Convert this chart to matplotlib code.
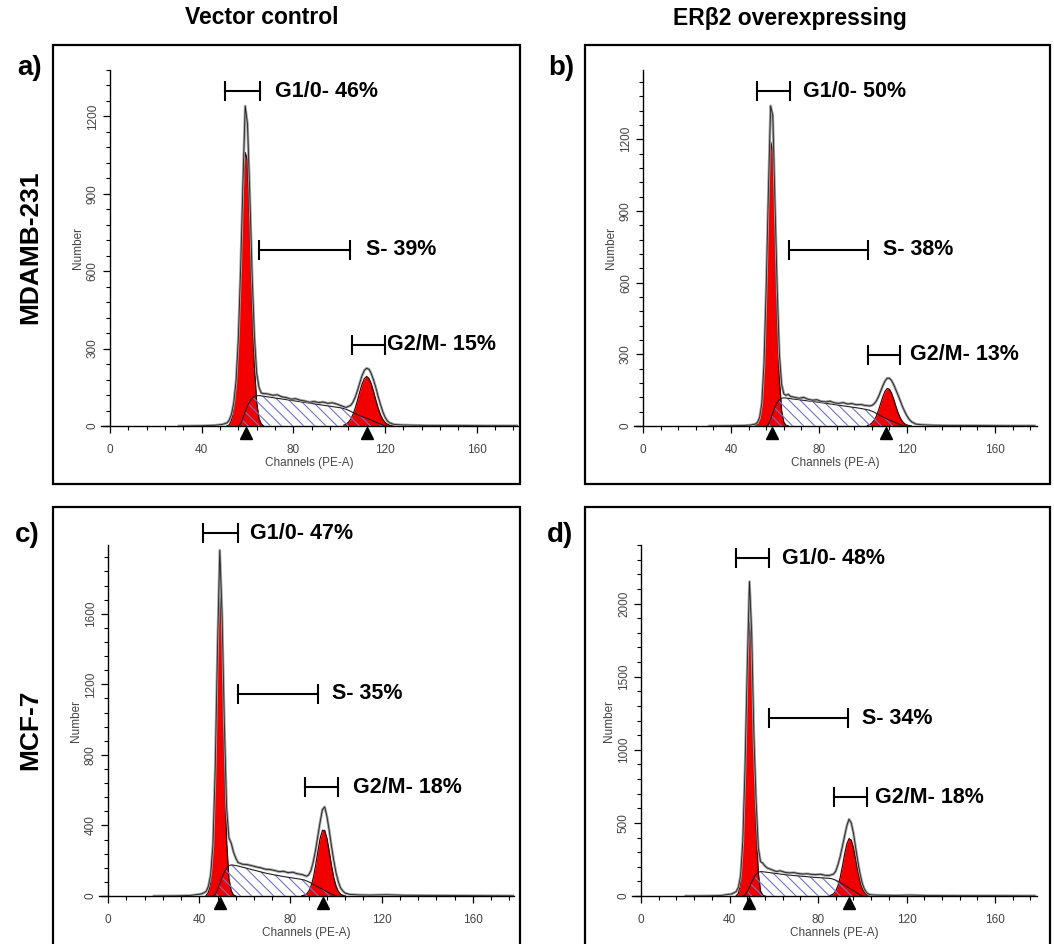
import matplotlib
matplotlib.use("Agg")
import matplotlib.pyplot as plt
from matplotlib.patches import Rectangle
from matplotlib.ticker import MultipleLocator

plt.rcParams['font.family'] = ['Liberation Sans', 'DejaVu Sans']
plt.rcParams['hatch.linewidth'] = 0.8

# ---------------- data ----------------
col_titles = ["Vector control", "ER\u03b22 overexpressing"]
row_titles = ["MDAMB-231", "MCF-7"]
panel_tags = ["a)", "b)", "c)", "d)"]

# panel a - MDAMB-231 vector control
g1_ch_a = [51, 52, 53, 54, 55, 56, 57, 58, 59, 60, 61, 62, 63, 64, 65, 66, 67]
g1_a = [0, 4, 22, 65, 150, 320, 590, 880, 1060, 1030, 790, 480, 235, 92, 30, 8, 0]
s_ch_a = [56, 57, 58, 59, 60, 61, 62, 63, 64, 65, 66, 68, 71, 74, 77, 80, 83, 86, 89, 92, 95, 98, 101,
          103, 105, 107, 109, 111, 113, 115, 117, 119, 121]
s_a = [0, 8, 30, 55, 78, 95, 107, 114, 117, 118, 117, 114, 110, 106, 102, 98, 94, 90, 86, 82, 78, 74, 70,
       65, 57, 48, 40, 33, 27, 19, 11, 4, 0]
g2_ch_a = [102, 103, 104, 105, 106, 107, 108, 109, 110, 111, 112, 113, 114, 115, 116, 117, 118, 119, 120,
           121, 122, 123, 124]
g2_a = [3, 7, 14, 26, 44, 69, 100, 133, 163, 184, 192, 184, 163, 133, 100, 69, 44, 26, 14, 7, 3, 1, 0]
raw_ch_a = [30, 40, 46, 49, 51, 52, 53, 54, 55, 56, 57, 58, 59, 60, 61, 62, 63, 64, 65, 66, 67,
            69, 71, 73, 75, 77, 79, 81, 83, 85, 87, 89, 91, 93, 95, 97, 99, 101, 103,
            105, 106, 107, 108, 109, 110, 111, 112, 113, 114, 115, 116, 117, 118, 119, 120, 121, 122,
            124, 127, 132, 140, 150, 165, 178]
raw_a = [0, 1, 3, 6, 12, 22, 45, 90, 175, 340, 610, 940, 1240, 1170, 900, 590, 350, 205, 150, 128, 126,
         124, 119, 121, 113, 110, 104, 106, 100, 97, 92, 95, 91, 93, 88, 90, 85, 78, 72,
         80, 92, 112, 138, 168, 196, 216, 224, 220, 203, 178, 148, 114, 84, 56, 34, 20, 12,
         6, 4, 3, 2, 2, 1, 1]

# panel b - MDAMB-231 ERb2
g1_ch_b = [51, 52, 53, 54, 55, 56, 57, 58, 59, 60, 61, 62, 63, 64, 65, 66]
g1_b = [0, 8, 30, 85, 245, 540, 910, 1190, 1150, 840, 470, 200, 65, 16, 3, 0]
s_ch_b = [56, 57, 58, 59, 60, 61, 62, 63, 64, 65, 66, 68, 71, 74, 77, 80, 83, 86, 89, 92, 95, 98, 101,
          103, 105, 107, 109, 111, 113, 115, 117, 119]
s_b = [0, 6, 28, 55, 80, 98, 110, 116, 118, 117, 116, 113, 110, 106, 103, 99, 95, 91, 87, 83, 79, 75, 70,
       66, 58, 48, 38, 29, 21, 13, 6, 0]
g2_ch_b = [102, 103, 104, 105, 106, 107, 108, 109, 110, 111, 112, 113, 114, 115, 116, 117, 118, 119, 120,
           121, 122]
g2_b = [2, 5, 12, 23, 40, 64, 93, 122, 145, 157, 154, 137, 111, 81, 54, 32, 18, 9, 4, 2, 0]
raw_ch_b = [30, 40, 46, 49, 51, 52, 53, 54, 55, 56, 57, 58, 59, 60, 61, 62, 63, 64, 65, 66, 67,
            69, 71, 73, 75, 77, 79, 81, 83, 85, 87, 89, 91, 93, 95, 97, 99, 101, 103,
            104, 105, 106, 107, 108, 109, 110, 111, 112, 113, 114, 115, 116, 117, 118, 119, 120, 121, 122,
            124, 127, 132, 140, 150, 165, 178]
raw_b = [0, 1, 2, 4, 8, 15, 35, 95, 260, 580, 980, 1340, 1300, 930, 575, 300, 175, 135, 128, 133, 124,
         120, 116, 120, 112, 108, 110, 103, 101, 104, 97, 95, 98, 92, 94, 89, 90, 86, 84,
         86, 92, 104, 122, 145, 168, 188, 200, 200, 190, 172, 150, 128, 104, 80, 60, 42, 28, 18,
         8, 5, 3, 2, 2, 1, 1]

# panel c - MCF-7 vector control
g1_ch_c = [43, 44, 45, 46, 47, 48, 49, 50, 51, 52, 53, 54, 55, 56]
g1_c = [2, 20, 75, 250, 700, 1360, 1745, 1480, 830, 310, 100, 30, 6, 0]
s_ch_c = [46, 47, 48, 49, 50, 51, 52, 53, 54, 55, 57, 60, 63, 66, 69, 72, 75, 78, 81, 84,
          86, 88, 90, 92, 94, 96, 98, 100]
s_c = [0, 8, 35, 70, 105, 135, 158, 172, 176, 175, 170, 160, 150, 140, 130, 122, 115, 108, 102, 96,
       91, 80, 66, 52, 38, 24, 11, 0]
g2_ch_c = [85, 86, 87, 88, 89, 90, 91, 92, 93, 94, 95, 96, 97, 98, 99, 100, 101, 102, 103, 104]
g2_c = [1, 4, 10, 26, 55, 103, 172, 252, 326, 372, 372, 326, 252, 172, 103, 55, 26, 10, 4, 0]
raw_ch_c = [20, 30, 36, 39, 41, 43, 44, 45, 46, 47, 48, 49, 50, 51, 52, 53, 54, 55, 56, 57,
            59, 61, 63, 65, 67, 69, 71, 73, 75, 77, 79, 81, 83, 85, 87,
            88, 89, 90, 91, 92, 93, 94, 95, 96, 97, 98, 99, 100, 101, 102, 103, 104,
            106, 110, 115, 122, 130, 145, 160, 178]
raw_c = [0, 1, 3, 8, 12, 25, 55, 120, 290, 720, 1400, 1960, 1600, 980, 500, 330, 300, 250, 215, 190,
         180, 178, 172, 165, 160, 152, 150, 145, 138, 140, 132, 135, 126, 122, 112,
         120, 145, 195, 260, 340, 420, 490, 505, 450, 370, 280, 200, 130, 80, 45, 28, 16,
         9, 6, 5, 7, 4, 3, 2, 1]

# panel d - MCF-7 ERb2
g1_ch_d = [43, 44, 45, 46, 47, 48, 49, 50, 51, 52, 53, 54, 55, 56]
g1_d = [2, 18, 90, 320, 815, 1465, 1870, 1680, 1070, 485, 155, 35, 6, 0]
s_ch_d = [46, 47, 48, 49, 50, 51, 52, 53, 54, 55, 57, 60, 63, 66, 69, 72, 75, 78, 81, 84,
          86, 88, 90, 92, 94, 96, 98, 100]
s_d = [0, 5, 28, 60, 95, 125, 148, 162, 167, 166, 162, 156, 150, 144, 140, 136, 132, 128, 125, 122,
       119, 108, 92, 74, 55, 36, 17, 0]
g2_ch_d = [85, 86, 87, 88, 89, 90, 91, 92, 93, 94, 95, 96, 97, 98, 99, 100, 101, 102, 103, 104]
g2_d = [2, 6, 15, 34, 70, 126, 202, 285, 355, 392, 382, 330, 251, 170, 101, 53, 25, 10, 4, 0]
raw_ch_d = raw_ch_c
raw_d = [0, 1, 3, 10, 14, 30, 60, 140, 380, 880, 1560, 2150, 1800, 1100, 650, 330, 235, 225, 205, 192,
         180, 168, 172, 162, 158, 160, 154, 150, 152, 148, 146, 149, 142, 140, 150,
         170, 215, 270, 340, 410, 480, 525, 500, 430, 330, 235, 150, 85, 45, 22, 12, 8,
         6, 5, 4, 6, 3, 2, 2, 1]

# peak markers (channel of G1 and G2 mean)
peaks_a = [59.3, 112]
peaks_b = [58.5, 110.5]
peaks_c = [49.1, 94.2]
peaks_d = [49.0, 94.2]

# phase percentages
pct_a = ["46%", "39%", "15%"]
pct_b = ["50%", "38%", "13%"]
pct_c = ["47%", "35%", "18%"]
pct_d = ["48%", "34%", "18%"]
phase_names = ["G1/0- ", "S- ", "G2/M- "]

# ---------------- layout (figure pixels) ----------------
W, H = 1054, 944
panels = [
    dict(tag="a)", g1=(g1_ch_a, g1_a), s=(s_ch_a, s_a), g2=(g2_ch_a, g2_a), raw=(raw_ch_a, raw_a),
         peaks=peaks_a, pct=pct_a, ymax=1380, major=300, minor=60, xmax=178,
         box=(100.8, 70, 518, 426), frame=(53, 45, 520, 484), tagxy=(30, 68),
         bars=[(50.1, 65.4, 1297, 71.9), (65, 104.6, 683, 111.6), (105.5, 119.9, 315, 120.7)]),
    dict(tag="b)", g1=(g1_ch_b, g1_b), s=(s_ch_b, s_b), g2=(g2_ch_b, g2_b), raw=(raw_ch_b, raw_b),
         peaks=peaks_b, pct=pct_b, ymax=1490, major=300, minor=60, xmax=179,
         box=(634.2, 70, 1036.8, 426), frame=(585, 45, 1050, 484), tagxy=(561, 68),
         bars=[(51.8, 66.8, 1401, 72.7), (66.4, 102.3, 738, 109), (102.3, 116.8, 298, 121.4)]),
    dict(tag="c)", g1=(g1_ch_c, g1_c), s=(s_ch_c, s_c), g2=(g2_ch_c, g2_c), raw=(raw_ch_c, raw_c),
         peaks=peaks_c, pct=pct_c, ymax=1990, major=400, minor=80, xmax=178,
         box=(98.9, 545, 514, 896), frame=(53, 507, 520, 960), tagxy=(27, 535),
         bars=[(41.6, 57, 2058, 62.2), (57, 92, 1148, 98.2), (86.4, 100.8, 616, 107.4)]),
    dict(tag="d)", g1=(g1_ch_d, g1_d), s=(s_ch_d, s_d), g2=(g2_ch_d, g2_d), raw=(raw_ch_d, raw_d),
         peaks=peaks_d, pct=pct_d, ymax=2400, major=500, minor=100, xmax=179,
         box=(632.2, 545, 1037.1, 896), frame=(585, 507, 1050, 960), tagxy=(560, 535),
         bars=[(42.9, 57.9, 2309, 63.7), (57.9, 93.6, 1216, 99.9), (87.2, 102.1, 676, 105.8)]),
]

fig = plt.figure(figsize=(W / 100, H / 100), dpi=100)

red = "#f20000"
hatch_col = "#7272d2"

for p in panels:
    # outer frame of each panel
    fx0, fy0, fx1, fy1 = p["frame"]
    fig.add_artist(Rectangle((fx0 / W, 1 - fy1 / H), (fx1 - fx0) / W, (fy1 - fy0) / H,
                             transform=fig.transFigure, fill=False, lw=1.6, ec="black"))
    fig.text(p["tagxy"][0] / W, 1 - p["tagxy"][1] / H, p["tag"], fontsize=20,
             fontweight="bold", ha="center", va="center")

    x0, y0, x1, y1 = p["box"]
    ax = fig.add_axes([x0 / W, 1 - y1 / H, (x1 - x0) / W, (y1 - y0) / H])
    ax.set_facecolor("none")

    # G1 and G2 fitted peaks
    for key in ("g1", "g2"):
        ch, vals = p[key]
        ax.fill_between(ch, vals, color=red, lw=0, zorder=2)
        ax.plot(ch, vals, color="#3a0000", lw=0.9, zorder=3)
    # S phase, hatched
    ch, vals = p["s"]
    ax.fill_between(ch, vals, facecolor="none", edgecolor=hatch_col, hatch="\\\\\\", lw=0, zorder=4)
    ax.plot(ch, vals, color="#202020", lw=0.8, zorder=5)
    # raw histogram
    ch, vals = p["raw"]
    ax.plot(ch, vals, color="#a0a0a0", lw=1.9, zorder=6)
    ax.plot(ch, vals, color="#222222", lw=0.6, zorder=7)

    # peak triangles below the axis
    ax.plot(p["peaks"], [-0.02] * 2, marker="^", ls="none", color="black", ms=8,
            transform=ax.get_xaxis_transform(), clip_on=False, zorder=8)

    # phase bars and percentages
    for (b0, b1, by, tx), name, pc in zip(p["bars"], phase_names, p["pct"]):
        ax.plot([b0, b1], [by, by], color="black", lw=1.5, clip_on=False, zorder=9)
        ax.plot([b0, b1], [by, by], ls="none", marker="|", ms=15, mew=1.5, color="black",
                clip_on=False, zorder=9)
        ax.text(tx, by, name + pc, fontsize=15.5, fontweight="bold", ha="left", va="center",
                clip_on=False)

    ax.set_xlim(-4, p["xmax"])
    ax.set_ylim(0, p["ymax"])
    ax.spines["top"].set_visible(False)
    ax.spines["right"].set_visible(False)
    ax.spines["left"].set_position(("data", 0))
    for sp in ("left", "bottom"):
        ax.spines[sp].set_linewidth(1.0)
    ax.xaxis.set_major_locator(MultipleLocator(40))
    ax.xaxis.set_minor_locator(MultipleLocator(8))
    ax.yaxis.set_major_locator(MultipleLocator(p["major"]))
    ax.yaxis.set_minor_locator(MultipleLocator(p["minor"]))
    ax.set_xticks([0, 40, 80, 120, 160])
    ax.tick_params(which="major", direction="out", length=5, width=0.9, labelsize=8.5,
                   labelcolor="#444444")
    ax.tick_params(which="minor", direction="out", length=3, width=0.8)
    ax.tick_params(axis="x", pad=8)
    ax.tick_params(axis="y", labelrotation=90, pad=3)
    for lab in ax.get_yticklabels():
        lab.set_va("center")
    ax.set_xlabel("Channels (PE-A)", fontsize=8.5, color="#444444", labelpad=1)
    ax.set_ylabel("Number", fontsize=8.5, color="#444444", labelpad=2)

# column and row titles
fig.text(262 / W, 1 - 18 / H, col_titles[0], fontsize=16.5, fontweight="bold", ha="center", va="center")
fig.text(790 / W, 1 - 18 / H, col_titles[1], fontsize=16.5, fontweight="bold", ha="center", va="center")
fig.text(30 / W, 1 - 247 / H, row_titles[0], fontsize=19, fontweight="bold", rotation=90,
         ha="center", va="center")
fig.text(30 / W, 1 - 730 / H, row_titles[1], fontsize=19, fontweight="bold", rotation=90,
         ha="center", va="center")

fig.savefig("out.png", dpi=100)
